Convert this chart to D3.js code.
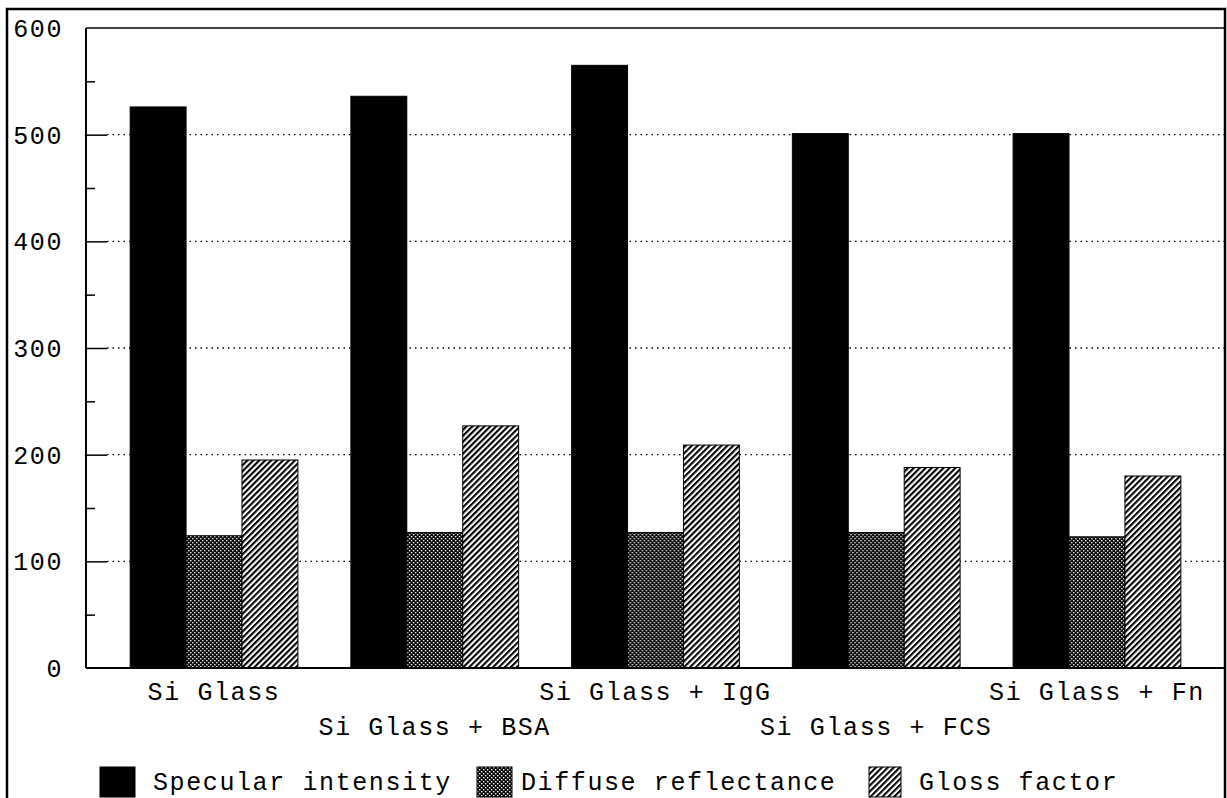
<!DOCTYPE html>
<html>
<head>
<meta charset="utf-8">
<script src="https://cdn.jsdelivr.net/npm/d3@7"></script>
<style>
  html, body { margin: 0; padding: 0; background: #fff; }
  svg { display: block; }
  text { font-family: "Liberation Mono", "DejaVu Sans Mono", monospace; fill: #000; }
</style>
</head>
<body>
<svg id="chart" width="1227" height="798"></svg>
<script>
// ---- data ----
const categories = ["Si Glass", "Si Glass + BSA", "Si Glass + IgG", "Si Glass + FCS", "Si Glass + Fn"];
const seriesNames = ["Specular intensity", "Diffuse reflectance", "Gloss factor"];
const specular = [526, 536, 565, 501, 501];
const diffuse  = [124, 127, 127, 127, 123];
const gloss    = [195, 227, 209, 188, 180];
const yTicks = [0, 100, 200, 300, 400, 500, 600];
const yMinorTicks = [50, 150, 250, 350, 450, 550];
const gridValues = [100, 200, 300, 400, 500];

const seriesValues = [specular, diffuse, gloss];
const fills = ["#000", "url(#crossPat)", "url(#diagPat)"];

const FONT_SIZE = "25px", LS = "1.6px";

const svg = d3.select("#chart");
const plot = { left: 86, right: 1225, top: 28, bottom: 668 };

// ---- patterns ----
const defs = svg.append("defs");
const cp = defs.append("pattern").attr("id", "crossPat")
  .attr("patternUnits", "userSpaceOnUse").attr("width", 4).attr("height", 4);
cp.append("rect").attr("width", 4).attr("height", 4).attr("fill", "#000");
cp.append("rect").attr("x", 0).attr("y", 0).attr("width", 1.4).attr("height", 1.4).attr("fill", "#fff");
cp.append("rect").attr("x", 2).attr("y", 2).attr("width", 1.4).attr("height", 1.4).attr("fill", "#fff");

const dp = defs.append("pattern").attr("id", "diagPat")
  .attr("patternUnits", "userSpaceOnUse").attr("width", 4.2).attr("height", 10)
  .attr("patternTransform", "rotate(45)");
dp.append("rect").attr("width", 4.2).attr("height", 10).attr("fill", "#fff");
dp.append("rect").attr("x", 0).attr("width", 2.1).attr("height", 10).attr("fill", "#000");

// ---- scales ----
const y = d3.scaleLinear().domain([0, 600]).range([plot.bottom, plot.top]);
const x0 = d3.scaleBand().domain(categories).range([plot.left, plot.right])
  .paddingInner(0.24).paddingOuter(0.2);
const x1 = d3.scaleBand().domain(seriesNames).range([0, x0.bandwidth()]);

// ---- outer frame ----
svg.append("path")
  .attr("d", `M7,798 L7,9 L1225,9 L1225,798`)
  .attr("fill", "none").attr("stroke", "#000").attr("stroke-width", 2.5);

// ---- grid lines ----
svg.append("g").selectAll("line").data(gridValues).join("line")
  .attr("x1", plot.left + 21).attr("x2", plot.right)
  .attr("y1", d => y(d)).attr("y2", d => y(d))
  .attr("stroke", "#000").attr("stroke-width", 1.3)
  .attr("stroke-dasharray", "1.5,4");

// ---- bars ----
const groups = svg.append("g").selectAll("g").data(categories).join("g")
  .attr("transform", c => `translate(${x0(c)},0)`);
groups.selectAll("rect")
  .data((c, i) => seriesNames.map((s, j) => ({ s, j, v: seriesValues[j][i] })))
  .join("rect")
  .attr("x", d => x1(d.s))
  .attr("width", x1.bandwidth())
  .attr("y", d => y(d.v))
  .attr("height", d => y(0) - y(d.v))
  .attr("fill", d => fills[d.j])
  .attr("stroke", "#000").attr("stroke-width", 1);

// ---- axes ----
const yAxis = d3.axisLeft(y).tickValues(yTicks).tickSize(-21).tickPadding(23)
  .tickFormat(d3.format("d"));
const yg = svg.append("g").attr("transform", `translate(${plot.left},0)`).call(yAxis);
yg.select(".domain").remove();
yg.selectAll(".tick line").attr("stroke", "#000").attr("stroke-width", 1.5)
  .filter(d => d === 0 || d === 600).remove();
yg.selectAll(".tick text").style("font-size", FONT_SIZE).style("letter-spacing", LS)
  .attr("dy", "0.34em");

const yMinor = d3.axisLeft(y).tickValues(yMinorTicks).tickSize(-9).tickFormat("");
const ym = svg.append("g").attr("transform", `translate(${plot.left},0)`).call(yMinor);
ym.select(".domain").remove();
ym.selectAll(".tick line").attr("stroke", "#000").attr("stroke-width", 1.5);

// plot box lines: left axis, top, bottom axis
svg.append("line").attr("x1", plot.left).attr("x2", plot.left)
  .attr("y1", y(600)).attr("y2", y(0)).attr("stroke", "#000").attr("stroke-width", 2);
svg.append("line").attr("x1", plot.left).attr("x2", plot.right)
  .attr("y1", y(600)).attr("y2", y(600)).attr("stroke", "#000").attr("stroke-width", 1.5);
svg.append("line").attr("x1", plot.left).attr("x2", plot.right)
  .attr("y1", y(0)).attr("y2", y(0)).attr("stroke", "#000").attr("stroke-width", 2);

// ---- x labels (staggered) ----
svg.append("g").selectAll("text").data(categories).join("text")
  .attr("x", c => x0(c) + x0.bandwidth() / 2)
  .attr("y", (c, i) => i % 2 === 0 ? 700 : 735)
  .attr("text-anchor", "middle")
  .style("font-size", FONT_SIZE).style("letter-spacing", LS)
  .text(c => c);

// ---- legend ----
const legendSquareX = [100, 477, 869];
const lg = svg.append("g").selectAll("g").data(seriesNames).join("g")
  .attr("transform", (s, i) => `translate(${legendSquareX[i]},767)`);
lg.append("rect").attr("width", (s, i) => i === 2 ? 32 : 35).attr("height", 30)
  .attr("fill", (s, i) => fills[i]).attr("stroke", "#000").attr("stroke-width", 1);
lg.append("text").attr("x", (s, i) => i === 0 ? 53 : (i === 1 ? 44 : 50)).attr("y", 23)
  .style("font-size", FONT_SIZE).style("letter-spacing", LS)
  .text(s => s);
</script>
</body>
</html>
